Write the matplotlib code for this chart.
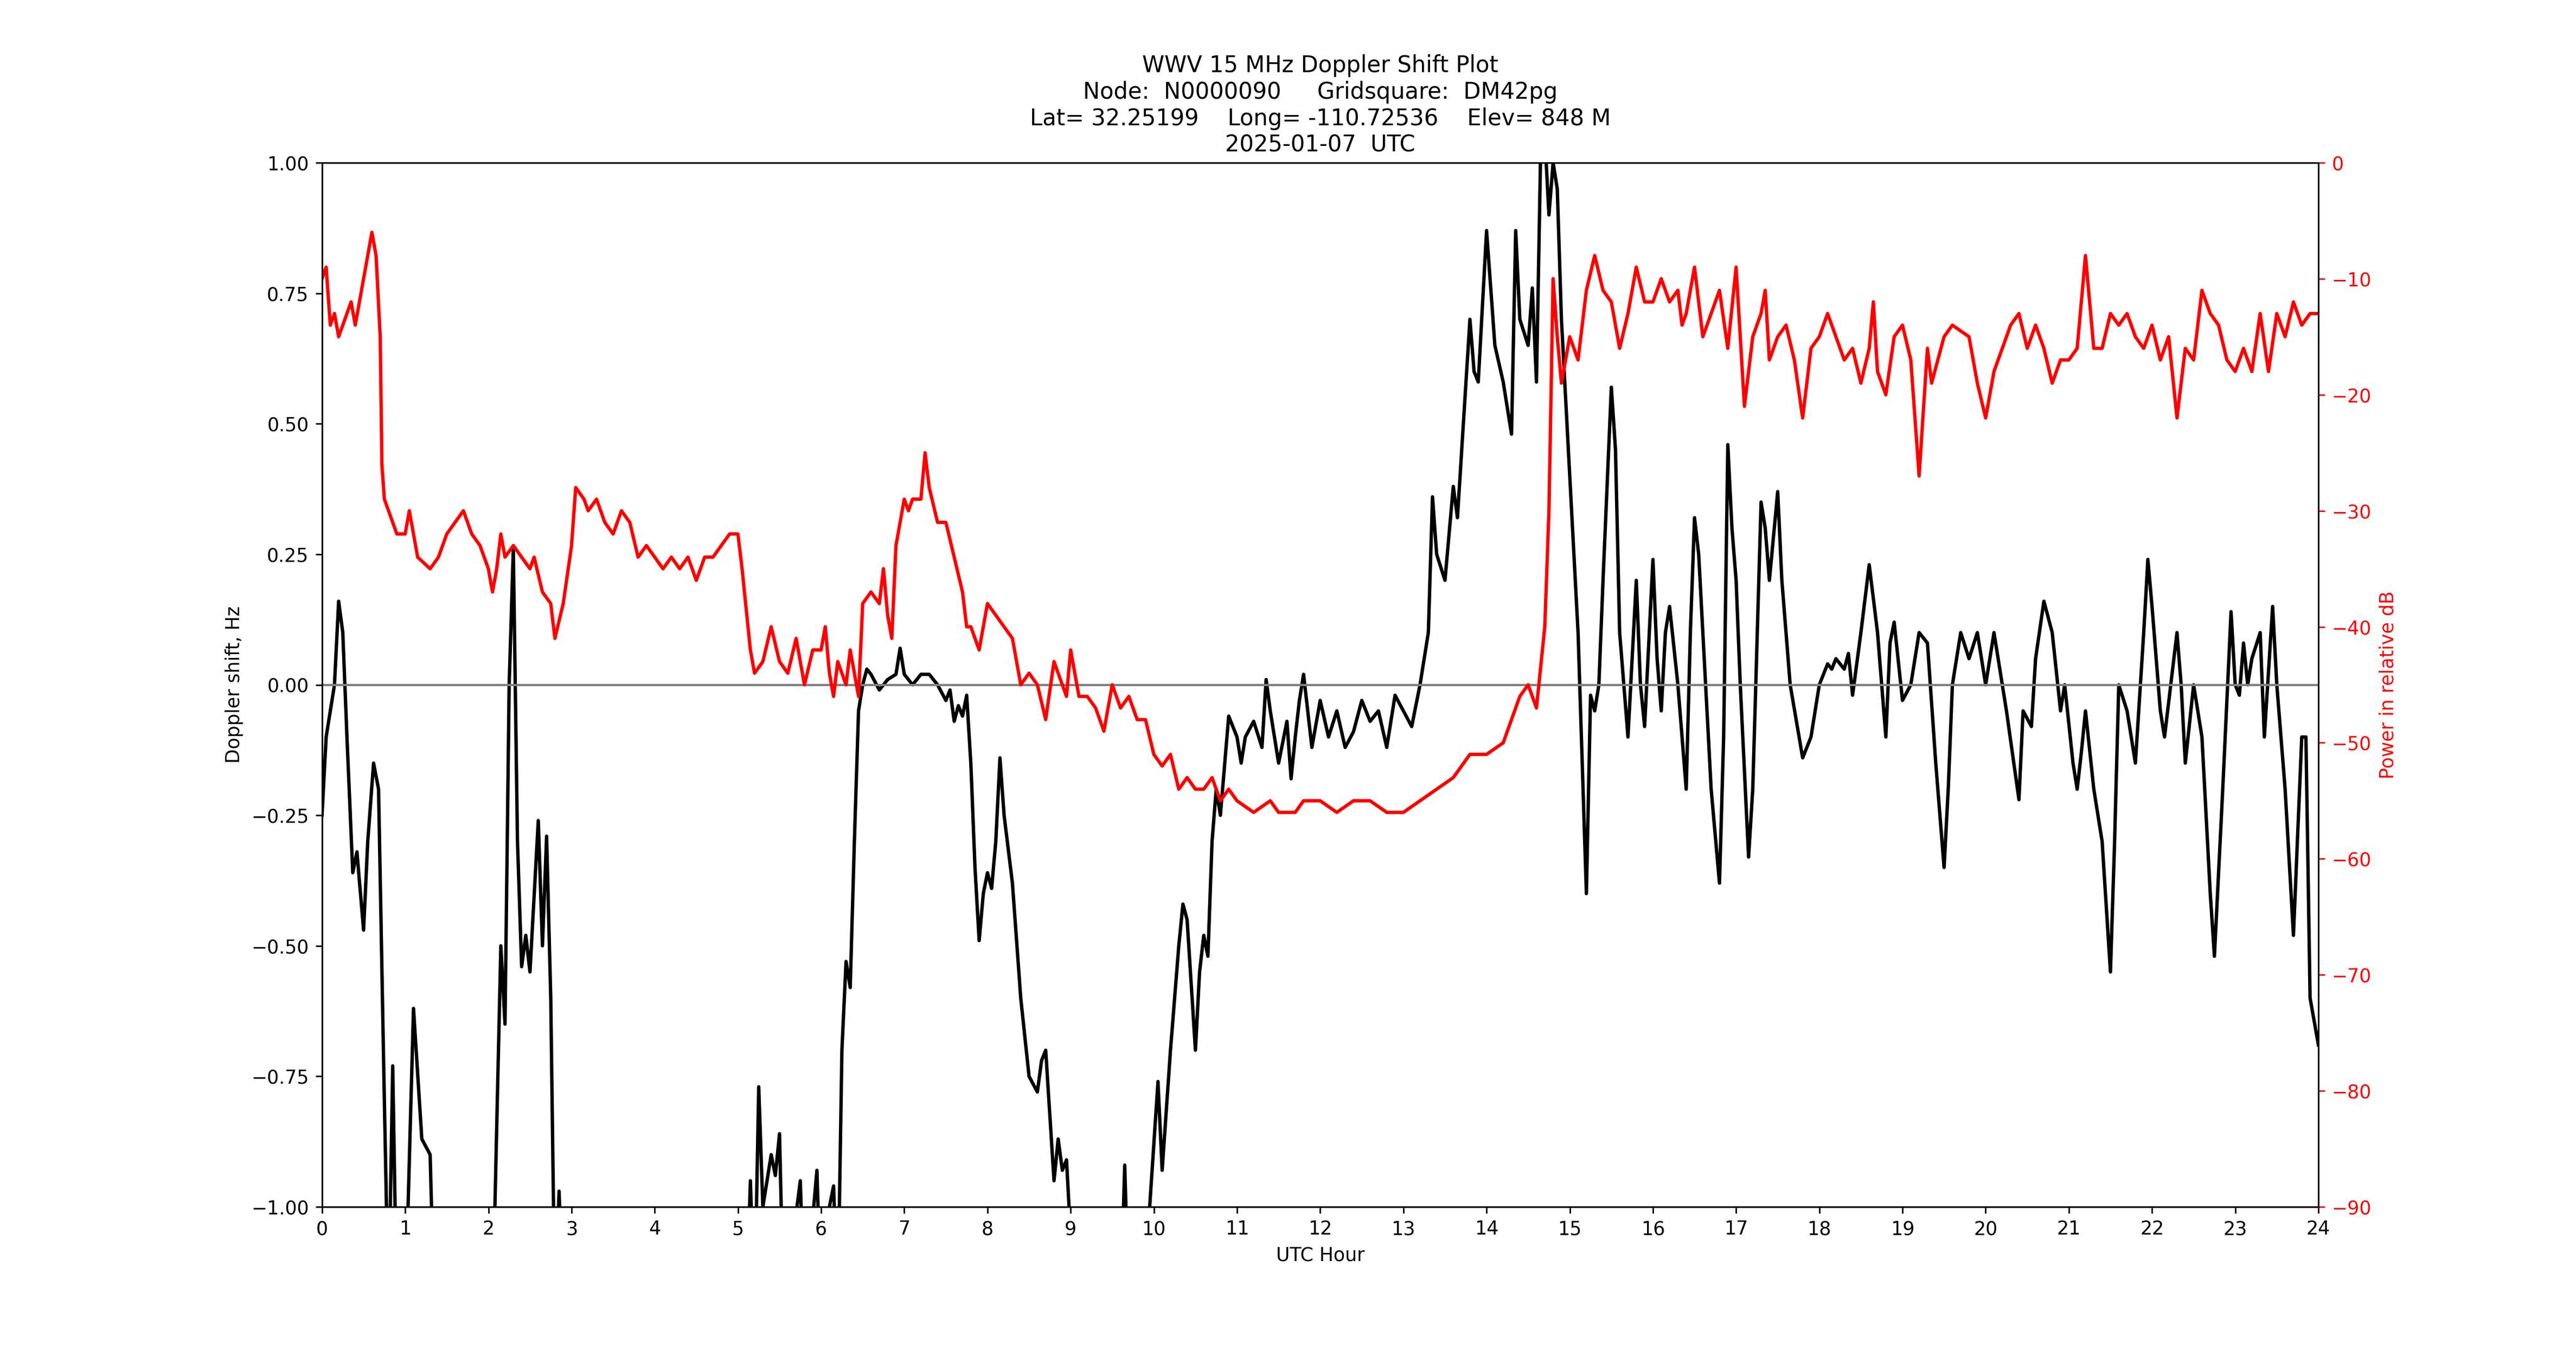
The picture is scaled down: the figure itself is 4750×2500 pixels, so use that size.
import matplotlib
matplotlib.use("Agg")
import matplotlib.pyplot as plt

dop_t = [0,0.05,0.15,0.2,0.25,0.3,0.37,0.42,0.5,0.55,0.62,0.68,0.75,0.8,0.85,0.9,1.0,1.1,1.2,1.3,1.35,2.05,2.15,2.2,2.25,2.3,2.35,2.4,2.45,2.5,2.6,2.65,2.7,2.75,2.8,2.85,2.9,5.1,5.15,5.2,5.25,5.3,5.4,5.45,5.5,5.55,5.75,5.8,5.95,6.0,6.1,6.15,6.2,6.25,6.3,6.35,6.4,6.45,6.5,6.55,6.6,6.7,6.8,6.9,6.95,7.0,7.1,7.2,7.3,7.4,7.5,7.55,7.6,7.65,7.7,7.75,7.8,7.85,7.9,7.95,8.0,8.05,8.1,8.15,8.2,8.3,8.4,8.5,8.6,8.65,8.7,8.8,8.85,8.9,8.95,9.05,9.6,9.65,9.7,9.95,10.05,10.1,10.2,10.3,10.35,10.4,10.5,10.55,10.6,10.65,10.7,10.75,10.8,10.9,11.0,11.05,11.1,11.2,11.3,11.35,11.4,11.5,11.6,11.65,11.7,11.75,11.8,11.85,11.9,12.0,12.1,12.2,12.3,12.4,12.5,12.6,12.7,12.8,12.9,13.0,13.1,13.2,13.3,13.35,13.4,13.5,13.6,13.65,13.8,13.85,13.9,14.0,14.1,14.2,14.3,14.35,14.4,14.5,14.55,14.6,14.65,14.7,14.75,14.8,14.85,14.9,15.0,15.1,15.2,15.25,15.3,15.35,15.4,15.5,15.55,15.6,15.7,15.8,15.85,15.9,16.0,16.05,16.1,16.15,16.2,16.3,16.4,16.45,16.5,16.55,16.6,16.7,16.8,16.85,16.9,16.95,17.0,17.05,17.15,17.2,17.3,17.35,17.4,17.5,17.55,17.65,17.8,17.9,18.0,18.1,18.15,18.2,18.3,18.35,18.4,18.5,18.6,18.7,18.8,18.85,18.9,19.0,19.1,19.2,19.3,19.4,19.5,19.55,19.6,19.7,19.8,19.9,20.0,20.1,20.15,20.25,20.4,20.45,20.55,20.6,20.7,20.8,20.9,20.95,21.05,21.1,21.15,21.2,21.3,21.4,21.5,21.55,21.6,21.7,21.8,21.9,21.95,22.0,22.1,22.15,22.3,22.35,22.4,22.5,22.6,22.7,22.75,22.85,22.95,23.0,23.05,23.1,23.15,23.2,23.3,23.35,23.45,23.5,23.6,23.7,23.8,23.85,23.9,24.0]
dop_v = [-0.25,-0.1,0.0,0.16,0.1,-0.1,-0.36,-0.32,-0.47,-0.3,-0.15,-0.2,-0.8,-1.2,-0.73,-1.2,-1.2,-0.62,-0.87,-0.9,-1.2,-1.2,-0.5,-0.65,0.0,0.26,-0.3,-0.54,-0.48,-0.55,-0.26,-0.5,-0.29,-0.6,-1.2,-0.97,-1.2,-1.2,-0.95,-1.2,-0.77,-1.0,-0.9,-0.94,-0.86,-1.2,-0.95,-1.2,-0.93,-1.2,-1.0,-0.96,-1.2,-0.7,-0.53,-0.58,-0.3,-0.05,0.0,0.03,0.02,-0.01,0.01,0.02,0.07,0.02,0.0,0.02,0.02,0.0,-0.03,-0.01,-0.07,-0.04,-0.06,-0.02,-0.15,-0.35,-0.49,-0.4,-0.36,-0.39,-0.3,-0.14,-0.25,-0.38,-0.6,-0.75,-0.78,-0.72,-0.7,-0.95,-0.87,-0.93,-0.91,-1.2,-1.2,-0.92,-1.2,-1.0,-0.76,-0.93,-0.7,-0.5,-0.42,-0.45,-0.7,-0.55,-0.48,-0.52,-0.3,-0.2,-0.25,-0.06,-0.1,-0.15,-0.1,-0.07,-0.12,0.01,-0.05,-0.15,-0.07,-0.18,-0.1,-0.03,0.02,-0.05,-0.12,-0.03,-0.1,-0.05,-0.12,-0.09,-0.03,-0.07,-0.05,-0.12,-0.02,-0.05,-0.08,0.0,0.1,0.36,0.25,0.2,0.38,0.32,0.7,0.6,0.58,0.87,0.65,0.58,0.48,0.87,0.7,0.65,0.76,0.58,1.02,1.05,0.9,1.0,0.95,0.7,0.4,0.1,-0.4,-0.02,-0.05,0.0,0.2,0.57,0.45,0.1,-0.1,0.2,0.0,-0.08,0.24,0.05,-0.05,0.1,0.15,0.0,-0.2,0.1,0.32,0.25,0.1,-0.2,-0.38,-0.1,0.46,0.3,0.2,0.0,-0.33,-0.2,0.35,0.3,0.2,0.37,0.2,0.0,-0.14,-0.1,0.0,0.04,0.03,0.05,0.03,0.06,-0.02,0.1,0.23,0.1,-0.1,0.08,0.12,-0.03,0.0,0.1,0.08,-0.15,-0.35,-0.2,0.0,0.1,0.05,0.1,0.0,0.1,0.05,-0.05,-0.22,-0.05,-0.08,0.05,0.16,0.1,-0.05,0.0,-0.15,-0.2,-0.13,-0.05,-0.2,-0.3,-0.55,-0.3,0.0,-0.05,-0.15,0.1,0.24,0.15,-0.05,-0.1,0.1,0.0,-0.15,0.0,-0.1,-0.4,-0.52,-0.2,0.14,0.0,-0.02,0.08,0.0,0.05,0.1,-0.1,0.15,0.0,-0.2,-0.48,-0.1,-0.1,-0.6,-0.69]

pw_t = [0,0.05,0.1,0.15,0.2,0.3,0.35,0.4,0.5,0.6,0.65,0.7,0.72,0.75,0.8,0.9,1.0,1.05,1.1,1.15,1.3,1.4,1.5,1.6,1.7,1.8,1.9,2.0,2.05,2.1,2.15,2.2,2.3,2.4,2.5,2.55,2.65,2.75,2.8,2.9,3.0,3.05,3.15,3.2,3.3,3.4,3.5,3.6,3.7,3.8,3.9,4.0,4.1,4.2,4.3,4.4,4.5,4.6,4.7,4.8,4.9,5.0,5.05,5.15,5.2,5.3,5.4,5.5,5.6,5.7,5.8,5.9,6.0,6.05,6.1,6.15,6.2,6.3,6.35,6.45,6.5,6.6,6.7,6.75,6.8,6.85,6.9,6.95,7.0,7.05,7.1,7.2,7.25,7.3,7.4,7.5,7.6,7.7,7.75,7.8,7.9,8.0,8.1,8.2,8.3,8.4,8.5,8.6,8.7,8.8,8.9,8.95,9.0,9.1,9.2,9.3,9.4,9.5,9.6,9.7,9.8,9.9,10.0,10.1,10.2,10.3,10.4,10.5,10.6,10.7,10.8,10.9,11.0,11.2,11.4,11.5,11.7,11.8,12.0,12.2,12.4,12.6,12.8,13.0,13.2,13.4,13.6,13.8,14.0,14.2,14.4,14.5,14.6,14.7,14.75,14.8,14.85,14.9,15.0,15.1,15.2,15.3,15.4,15.5,15.6,15.7,15.8,15.9,16.0,16.1,16.2,16.3,16.35,16.4,16.5,16.6,16.7,16.8,16.9,17.0,17.1,17.2,17.3,17.35,17.4,17.5,17.6,17.7,17.8,17.9,18.0,18.1,18.2,18.3,18.4,18.5,18.6,18.65,18.7,18.8,18.9,19.0,19.1,19.2,19.3,19.35,19.5,19.6,19.8,19.9,20.0,20.1,20.2,20.3,20.4,20.5,20.6,20.7,20.8,20.9,21.0,21.1,21.2,21.3,21.4,21.5,21.6,21.7,21.8,21.9,22.0,22.1,22.2,22.3,22.4,22.5,22.6,22.7,22.8,22.9,23.0,23.1,23.2,23.3,23.4,23.5,23.6,23.7,23.8,23.9,24.0]
pw_v = [-10,-9,-14,-13,-15,-13,-12,-14,-10,-6,-8,-15,-26,-29,-30,-32,-32,-30,-32,-34,-35,-34,-32,-31,-30,-32,-33,-35,-37,-35,-32,-34,-33,-34,-35,-34,-37,-38,-41,-38,-33,-28,-29,-30,-29,-31,-32,-30,-31,-34,-33,-34,-35,-34,-35,-34,-36,-34,-34,-33,-32,-32,-35,-42,-44,-43,-40,-43,-44,-41,-45,-42,-42,-40,-44,-46,-43,-45,-42,-46,-38,-37,-38,-35,-39,-41,-33,-31,-29,-30,-29,-29,-25,-28,-31,-31,-34,-37,-40,-40,-42,-38,-39,-40,-41,-45,-44,-45,-48,-43,-45,-46,-42,-46,-46,-47,-49,-45,-47,-46,-48,-48,-51,-52,-51,-54,-53,-54,-54,-53,-55,-54,-55,-56,-55,-56,-56,-55,-55,-56,-55,-55,-56,-56,-55,-54,-53,-51,-51,-50,-46,-45,-47,-40,-30,-10,-15,-19,-15,-17,-11,-8,-11,-12,-16,-13,-9,-12,-12,-10,-12,-11,-14,-13,-9,-15,-13,-11,-16,-9,-21,-15,-13,-11,-17,-15,-14,-17,-22,-16,-15,-13,-15,-17,-16,-19,-16,-12,-18,-20,-15,-14,-17,-27,-16,-19,-15,-14,-15,-19,-22,-18,-16,-14,-13,-16,-14,-16,-19,-17,-17,-16,-8,-16,-16,-13,-14,-13,-15,-16,-14,-17,-15,-22,-16,-17,-11,-13,-14,-17,-18,-16,-18,-13,-18,-13,-15,-12,-14,-13,-13]

fig, ax = plt.subplots(figsize=(19, 10), dpi=250)
ax.plot(dop_t, dop_v, color='black', lw=1.8)
ax.axhline(0, color='grey', lw=1.2)
ax.set_xlim(0, 24)
ax.set_ylim(-1, 1)
ax.set_xticks(range(25))
ax.set_xlabel('UTC Hour')
ax.set_ylabel('Doppler shift, Hz')
ax.set_title('WWV 15 MHz Doppler Shift Plot\nNode:  N0000090     Gridsquare:  DM42pg\n'
             'Lat= 32.25199    Long= -110.72536    Elev= 848 M\n2025-01-07  UTC')
ax2 = ax.twinx()
ax2.plot(pw_t, pw_v, color='red', lw=1.8)
ax2.set_ylim(-90, 0)
ax2.set_ylabel('Power in relative dB', color='red')
ax2.tick_params(axis='y', colors='red')
fig.savefig('out.png')
